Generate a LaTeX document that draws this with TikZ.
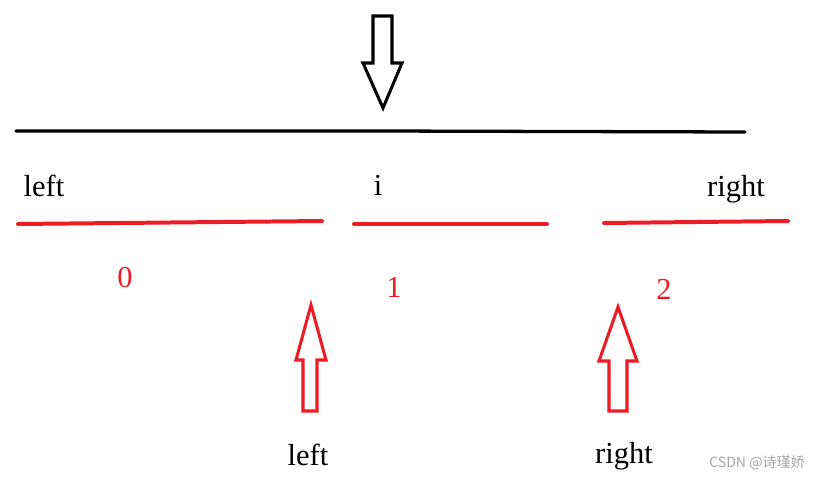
\documentclass[tikz,border=0pt]{standalone}
\usepackage{fontspec}
\setmainfont{Liberation Serif}
\newfontfamily\cjk{Noto Sans CJK SC}
\usepackage{xcolor}
\definecolor{paintred}{HTML}{ED1C24}
\usetikzlibrary{positioning}

\tikzset{
  blackline/.style={line width=2.8pt,line cap=round},
  redline/.style={line width=3.4pt,paintred,line cap=round},
  bigtext/.style={font=\fontsize{26}{30}\selectfont,inner sep=0pt},
  rednum/.style={font=\fontsize{26}{30}\selectfont,text=paintred,inner sep=0pt},
}

\begin{document}
\begin{tikzpicture}[x=0.03cm,y=-0.03cm]
\useasboundingbox (0,0) rectangle (819,479);

% Black arrow pointing at i
\draw[line width=2.6pt,line join=miter] (373,16) -- (392,16) -- (392,63) -- (402,63) -- (383,108) -- (363,63) -- (373,63) -- cycle;

% Black array line
\coordinate (arrL) at (16,131);
\coordinate (arrM) at (380,131);
\coordinate (arrR) at (745,132);
\draw[blackline] (arrL) -- (arrM) -- (arrR);

% Top labels
\node[bigtext] (lefttop) at (44,186) {left};
\node[bigtext] (itop) at (378,185) {i};
\node[bigtext] (righttop) at (736,189) {right};

% Three red parts
\coordinate (p0a) at (18,224);
\coordinate (p0b) at (322,221);
\coordinate (p1a) at (354,224);
\coordinate (p1b) at (547,224);
\coordinate (p2a) at (604,223);
\coordinate (p2b) at (788,221);
\draw[redline] (p0a) -- (p0b);
\draw[redline] (p1a) -- (p1b);
\draw[redline] (p2a) -- (p2b);

\node[rednum] (n0) at (125,278) {0};
\node[rednum] (n1) at (394,287) {1};
\node[rednum] (n2) at (664,289) {2};

% Red arrows under the gaps
\draw[paintred,line width=2.6pt,line join=miter] (303,411) -- (303,360) -- (296,360) -- (311,305) -- (326,360) -- (317,360) -- (317,411) -- cycle;
\draw[paintred,line width=2.6pt,line join=miter] (609,411) -- (609,361) -- (599,361) -- (618,307) -- (637,361) -- (627,361) -- (627,411) -- cycle;

% Bottom labels
\node[bigtext] (leftbot) at (308,455) {left};
\node[bigtext] (rightbot) at (624,456) {right};

% Watermark
\node[font=\cjk\fontsize{12}{14}\selectfont,text=black!35,inner sep=0pt] (mark) at (757,463) {CSDN @诗瑾娇};
\end{tikzpicture}
\end{document}
